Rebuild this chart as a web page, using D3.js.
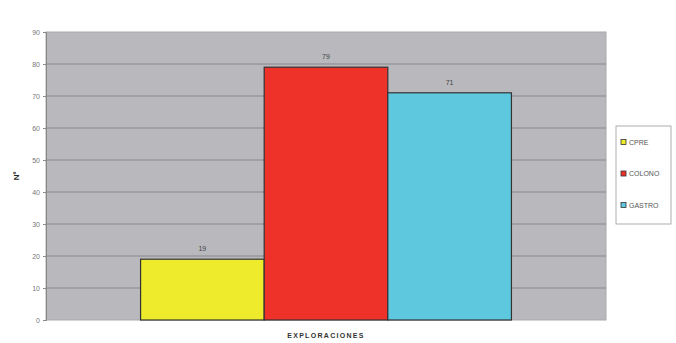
<!DOCTYPE html>
<html><head><meta charset="utf-8">
<script src="https://cdn.jsdelivr.net/npm/d3@7"></script>
<style>body{margin:0;background:#fff}svg{display:block}</style>
</head><body>
<svg id="c" width="676" height="343"></svg>
<script>
const categories = ["EXPLORACIONES"];
const seriesNames = ["CPRE", "COLONO", "GASTRO"];
const seriesValues = [19, 79, 71];
const seriesColors = ["#eeea2c", "#ee3129", "#5ec9de"];
const yTicks = [0, 10, 20, 30, 40, 50, 60, 70, 80, 90];
const yLabel = "Nº";

const svg = d3.select("#c");
const L = 46, R = 606, T = 32, B = 320;

const y = d3.scaleLinear().domain([0, 90]).range([B, T]);
const x0 = d3.scaleBand().domain(categories).range([L, R]).paddingInner(0).paddingOuter(0.255);
const x1 = d3.scaleBand().domain(seriesNames).range([0, x0.bandwidth()]).padding(0);

// plot area
svg.append("rect").attr("x", L).attr("y", T).attr("width", R - L).attr("height", B - T)
  .attr("fill", "#b9b9bd").attr("stroke", "#a9a9ad");

// gridlines
svg.append("g").selectAll("line").data(yTicks.filter(d => d > 0 && d < 90)).join("line")
  .attr("x1", L).attr("x2", R).attr("y1", d => y(d)).attr("y2", d => y(d))
  .attr("stroke", "#85858b").attr("stroke-width", 1);

// y axis
const ya = svg.append("g").attr("transform", `translate(${L},0)`)
  .call(d3.axisLeft(y).tickValues(yTicks).tickSize(3).tickPadding(3));
ya.select(".domain").attr("stroke", "#888");
ya.selectAll(".tick line").attr("stroke", "#888");
ya.selectAll("text").attr("fill", "#777").attr("font-family", "Arial, Liberation Sans, sans-serif").attr("font-size", 7);

// bars
const g = svg.append("g").attr("transform", `translate(${x0(categories[0])},0)`);
g.selectAll("rect").data(seriesValues).join("rect")
  .attr("x", (d, i) => x1(seriesNames[i]))
  .attr("y", d => y(d))
  .attr("width", x1.bandwidth())
  .attr("height", d => B - y(d))
  .attr("fill", (d, i) => seriesColors[i])
  .attr("stroke", "#333")
  .attr("stroke-width", 1.2);

g.selectAll("text").data(seriesValues).join("text")
  .attr("x", (d, i) => x1(seriesNames[i]) + x1.bandwidth() / 2)
  .attr("y", d => y(d) - 8)
  .attr("text-anchor", "middle")
  .attr("font-family", "Arial, Liberation Sans, sans-serif").attr("font-size", 7)
  .attr("fill", "#444")
  .text(d => d);

// x label
svg.append("text").attr("x", x0(categories[0]) + x0.bandwidth() / 2).attr("y", 338)
  .attr("text-anchor", "middle").attr("font-family", "Arial, Liberation Sans, sans-serif")
  .attr("font-size", 7).attr("font-weight", "bold").attr("letter-spacing", 1.3).attr("fill", "#333")
  .text(categories[0]);

// y label
svg.append("text").attr("transform", "translate(19,176) rotate(-90)")
  .attr("text-anchor", "middle").attr("font-family", "Arial, Liberation Sans, sans-serif")
  .attr("font-size", 8).attr("font-weight", "bold").attr("fill", "#222").text(yLabel);

// legend
const lg = svg.append("g");
lg.append("rect").attr("x", 616).attr("y", 126).attr("width", 55).attr("height", 98)
  .attr("fill", "#fff").attr("stroke", "#999").attr("stroke-width", 0.8);
const ly = d3.scalePoint().domain(seriesNames).range([142, 205]);
seriesNames.forEach((s, i) => {
  lg.append("rect").attr("x", 621).attr("y", ly(s) - 2.5).attr("width", 5).attr("height", 5)
    .attr("fill", seriesColors[i]).attr("stroke", "#333").attr("stroke-width", 0.8);
  lg.append("text").attr("x", 629).attr("y", ly(s) + 2.5)
    .attr("font-family", "Arial, Liberation Sans, sans-serif").attr("font-size", 7).attr("fill", "#555")
    .text(s);
});
</script>
</body></html>
